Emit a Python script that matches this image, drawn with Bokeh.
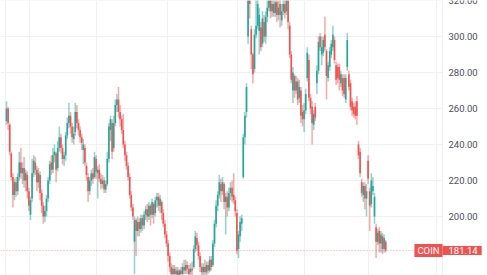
from bokeh.plotting import figure
from bokeh.models import Range1d, FixedTicker, Span, Label, ColumnDataSource
from bokeh.core.properties import value
from bokeh.embed import file_html
from bokeh.resources import INLINE

# Daily OHLC (trading-day index)
opens = [253,260,251,235,222,212,219,214,222,230,224,227,220,223,214,201,210,224,230,226,
         219,223,213,206,200,203,210,220,230,226,234,235,227,238,244,238,232,234,245,252,
         256,250,243,247,258,252,248,244,237,238,228,222,214,220,224,222,232,224,226,221,
         218,220,215,218,232,248,252,238,252,262,265,258,254,248,240,234,228,222,212,205,
         186,198,192,197,193,199,195,201,204,200,206,201,207,202,209,211,206,208,202,196,
         190,185,178,172,168,171,168,170,167,170,168,172,170,173,171,169,171,172,182,188,
         184,178,172,169,172,169,173,170,176,173,185,196,206,212,218,214,218,208,211,205,
         213,216,212,209,202,182,189,196,222,244,258,300,322,304,290,282,301,306,303,305,
         296,308,300,311,316,322,314,318,313,319,312,318,309,314,318,314,320,306,290,270,
         278,270,275,266,270,258,254,259,277,287,266,261,251,261,274,281,300,290,291,301,
         292,277,283,290,294,298,284,283,283,274,277,277,265,283,279,274,264,261,261,264,
         240,236,219,212,217,210,231,214,207,214,200,194,186,192,185,189,182,186]
highs = [264,261,252,236,224,221,222,224,236,238,230,233,226,225,216,211,232,234,233,228,
         227,225,215,208,206,212,222,231,234,238,240,236,242,250,246,240,236,247,255,263,
         258,252,250,263,262,254,250,246,243,240,230,224,222,226,227,236,234,228,229,224,
         223,222,220,236,252,256,254,256,265,268,272,262,256,257,242,236,230,224,214,207,
         200,199,200,199,201,201,203,206,207,208,207,210,208,211,213,213,212,209,204,198,
         192,187,180,174,173,173,172,172,171,172,174,176,176,175,173,174,175,184,192,191,
         186,180,174,174,176,175,175,178,178,187,198,209,214,223,221,222,219,213,214,216,
         219,220,224,211,204,192,200,201,246,258,274,340,340,306,291,304,330,332,316,308,
         314,312,314,320,330,332,322,322,325,326,320,322,318,324,322,330,324,308,292,283,
         279,278,277,276,272,262,263,271,294,290,268,264,259,263,284,300,302,300,300,311,
         293,286,294,298,306,300,286,285,285,281,279,279,279,302,281,276,266,263,264,267,
         242,238,221,219,219,218,234,216,224,222,213,196,193,194,192,191,190,187]
lows = [251,248,234,220,205,209,211,212,220,221,218,216,214,210,203,198,208,222,223,214,
        216,209,202,196,197,200,208,218,223,224,230,219,225,236,235,229,228,231,243,249,
        246,241,240,245,249,245,241,237,229,228,220,208,212,217,218,221,221,210,219,215,
        216,213,213,217,230,242,232,236,250,258,255,250,246,238,231,226,220,210,203,198,
        168,178,189,189,191,192,193,198,197,198,195,199,196,200,205,203,202,198,194,188,
        183,175,169,165,166,166,166,165,165,166,167,168,168,168,166,166,167,171,180,181,
        176,169,167,167,167,167,168,169,170,172,183,194,203,210,208,212,204,190,200,203,
        209,208,207,200,179,177,186,192,221,240,255,296,310,282,274,280,299,304,290,292,
        294,297,296,308,314,310,311,311,311,308,309,305,306,312,310,312,304,288,274,263,
        266,268,262,263,252,250,247,257,275,264,257,240,248,253,268,279,292,284,289,292,
        265,275,281,288,292,285,273,274,270,272,267,266,263,281,270,259,256,255,254,251,
        232,222,211,208,204,200,218,192,205,212,196,177,184,180,180,179,180,180]
closes = [260,252,236,222,212,219,214,222,230,224,227,220,224,214,206,209,224,231,226,219,
          224,213,206,200,203,210,220,229,226,234,236,226,238,244,238,232,234,245,252,256,
          250,244,246,258,252,248,244,241,240,230,223,214,220,224,221,233,225,226,221,218,
          220,215,218,232,250,254,236,252,262,265,258,254,248,240,234,228,222,212,205,200,
          198,192,197,193,199,195,201,204,200,206,201,208,201,209,211,206,210,202,196,190,
          185,178,172,168,171,168,170,167,170,168,172,170,173,171,168,171,170,182,189,184,
          178,172,169,172,169,173,170,176,172,185,196,206,212,219,214,219,208,211,205,213,
          216,211,209,203,181,190,197,199,244,256,272,322,318,290,279,301,306,318,312,294,
          310,300,311,316,322,314,318,313,319,312,316,312,314,318,313,320,308,290,276,280,
          270,275,265,272,256,254,259,268,291,266,260,252,257,255,281,297,294,294,298,294,
          278,284,292,296,301,287,276,277,276,279,270,268,277,298,272,261,259,257,256,256,
          234,224,213,217,210,214,221,206,220,217,211,186,191,185,190,182,188,181.14]

price_ticks = [200, 220, 240, 260, 280, 300, 320]
price_labels = ["200.00", "220.00", "240.00", "260.00", "280.00", "300.00", "320.00"]
month_lines = [-0.6, 14.4, 56.2, 100.6, 144.4, 186.2, 226.2, 268.8, 272.5]
last_price = 181.14
symbol = "COIN"

UP = "#26a69a"
DOWN = "#ef5350"
X0, XSCALE_END, PANE_END = -3.75, 300.625, 272.5

xs = list(range(len(closes)))
colors = [UP if c >= o else DOWN for o, c in zip(opens, closes)]
src = ColumnDataSource(dict(
    x=xs, o=opens, h=highs, l=lows, c=closes, color=colors,
    top=[max(o, c) for o, c in zip(opens, closes)],
    bottom=[min(o, c) for o, c in zip(opens, closes)],
))

p = figure(frame_width=487, frame_height=275,
           x_range=Range1d(X0, XSCALE_END), y_range=Range1d(167.22, 320.0),
           toolbar_location=None, output_backend="svg",
           min_border=0, outline_line_color=None,
           background_fill_color="white", border_fill_color="white")

p.xaxis.visible = False
p.yaxis.visible = False
p.xgrid.ticker = FixedTicker(ticks=month_lines)
p.xgrid.grid_line_color = "#f0f0f0"
p.ygrid.visible = False

# horizontal price grid, stopping at the price scale
p.segment(x0=[X0] * len(price_ticks), x1=[PANE_END] * len(price_ticks),
          y0=price_ticks, y1=price_ticks, line_color="#f0f0f0", line_width=1)

# price scale labels
p.text(x=[PANE_END] * len(price_ticks), y=price_ticks, text=price_labels,
       x_offset=6, text_align="left", text_baseline="middle",
       text_font=value("Roboto"), text_font_size="9.5px", text_color="#4a4e59")

p.segment(x0="x", y0="l", x1="x", y1="h", source=src, line_color="color",
          line_alpha=0.5, line_width=1.5)
p.vbar(x="x", width=1.0, top="top", bottom="bottom", source=src,
       fill_color="color", line_color=None)

p.segment(x0=[X0], x1=[PANE_END], y0=[last_price], y1=[last_price],
          line_color=DOWN, line_alpha=0.55, line_dash="1 2", line_width=1)

p.add_layout(Label(x=PANE_END, y=last_price, text=symbol, text_align="right",
                   text_baseline="middle", text_color="white", text_font="Roboto",
                   text_font_size="9.5px", background_fill_color=DOWN,
                   padding=dict(left=3, right=3, top=1, bottom=1)))
p.add_layout(Label(x=PANE_END, y=last_price, text=f"{last_price:.2f}", text_align="left",
                   text_baseline="middle", text_color="white", text_font="Roboto",
                   text_font_size="9.5px", background_fill_color=DOWN,
                   padding=dict(left=6, right=4, top=1, bottom=1)))

open("out.html", "w").write(file_html(p, INLINE))
